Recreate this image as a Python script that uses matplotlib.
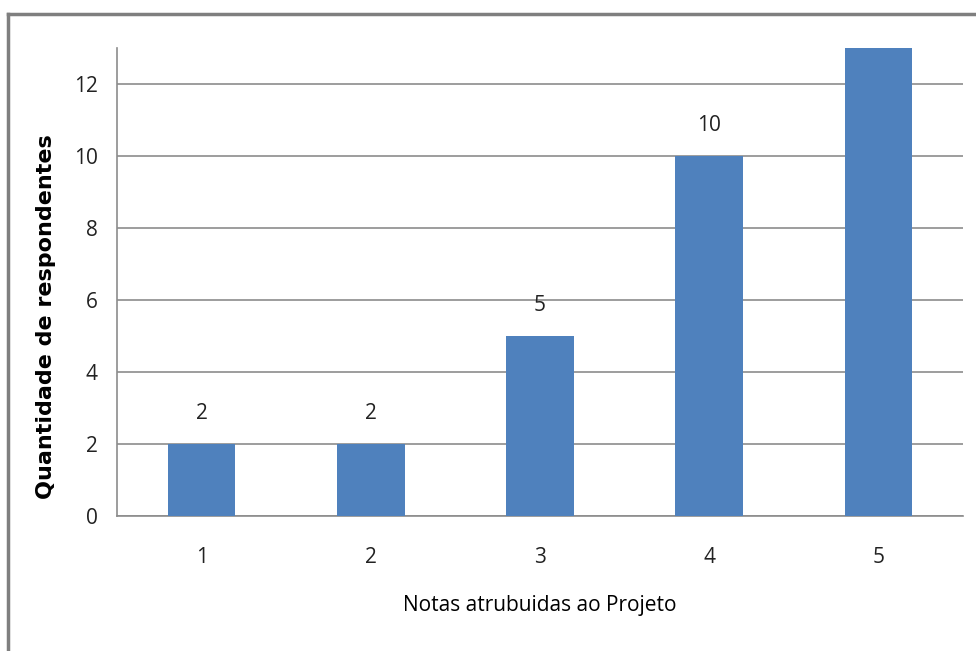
import matplotlib
matplotlib.use("Agg")
import matplotlib.pyplot as plt
from matplotlib.lines import Line2D

categories = ["1", "2", "3", "4", "5"]
values = [2, 2, 5, 10, 13]
labels_shown = ["2", "2", "5", "10", ""]
yticks = [0, 2, 4, 6, 8, 10, 12]

plt.rcParams['font.family'] = ['Open Sans', 'DejaVu Sans']

fig = plt.figure(figsize=(9.76, 6.51), dpi=100)
ax = fig.add_axes([117/976, 1-516/651, (963-117)/976, (516-48)/651])

x = list(range(1, len(categories)+1))
ax.bar(x, values, width=0.4, color="#4F81BD", zorder=3)
for xi, v, lab in zip(x, values, labels_shown):
    if lab:
        ax.text(xi, v + 0.55, lab, ha="center", va="bottom", fontsize=15, color="#222222")

ax.set_xlim(0.5, 5.5)
ax.set_ylim(0, 13)
ax.set_yticks(yticks)
ax.set_xticks(x)
ax.set_xticklabels(categories)
ax.tick_params(axis="both", length=0, labelsize=15, colors="#222222")
ax.tick_params(axis="y", pad=14)
ax.tick_params(axis="x", pad=22)
ax.grid(axis="y", color="#8c8c8c", linewidth=1.2, zorder=0)
for s in ["top", "right"]:
    ax.spines[s].set_visible(False)
ax.spines["left"].set_color("#8c8c8c")
ax.spines["bottom"].set_color("#8c8c8c")
ax.spines["left"].set_linewidth(1.2)
ax.spines["bottom"].set_linewidth(1.2)

ax.set_ylabel("Quantidade de respondentes", fontsize=16, fontweight="bold",
              family=["DejaVu Sans"])
ax.yaxis.set_label_coords((56-117)/846, (516-317)/468)
ax.set_xlabel("Notas atrubuidas ao Projeto", fontsize=15, labelpad=20)

# outer frame
fig.add_artist(Line2D([8/976, 1.0], [1-14/651, 1-14/651], transform=fig.transFigure,
                      color="#7f7f7f", linewidth=2.5))
fig.add_artist(Line2D([8/976, 8/976], [0, 1-14/651], transform=fig.transFigure,
                      color="#7f7f7f", linewidth=2.5))

fig.savefig("out.png", dpi=100)
